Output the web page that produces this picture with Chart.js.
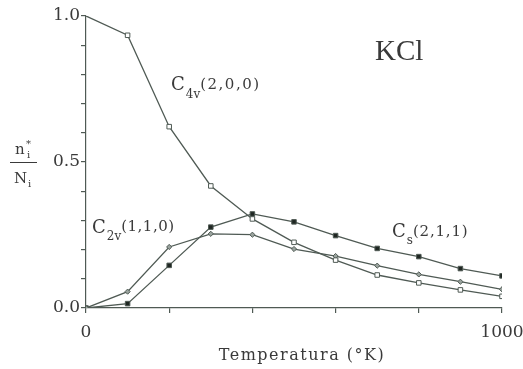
<!DOCTYPE html>
<html>
<head>
    <title>KCl</title>
    <script src="https://cdn.jsdelivr.net/npm/chart.js"></script>
    <style>
        body { margin: 0; background: #ffffff; }
        canvas { display: block; }
    </style>
</head>
<body>
    <canvas id="kclChart" width="523" height="369"></canvas>
    <script>
        // temperature (K) and n_i*/N_i
        var temps = [0, 100, 200, 300, 400, 500, 600, 700, 800, 900, 1000];
        var c4v = [1.0, 0.934, 0.621, 0.418, 0.305, 0.225, 0.164, 0.113, 0.086, 0.062, 0.040];
        var c2v = [0.0, 0.056, 0.209, 0.254, 0.251, 0.202, 0.178, 0.145, 0.115, 0.090, 0.064];
        var cs = [0.0, 0.015, 0.146, 0.277, 0.322, 0.295, 0.248, 0.204, 0.176, 0.135, 0.110];
        var xLabels = [0, 500, 1000];
        var yLabels = [0.0, 0.5, 1.0];

        var lineColor = '#4f5a54';
        var textColor = '#3a3a3a';
        var serif = '"DejaVu Serif", serif';

        function pairs(values) {
            return values.map(function (v, i) { return { x: temps[i], y: v }; });
        }

        // draws text pieces one after another (for sub/superscripts)
        function run(ctx, x, y, parts) {
            parts.forEach(function (p) {
                ctx.font = p.size + 'px ' + (p.family || serif);
                ctx.letterSpacing = (p.sp || 0) + 'px';
                ctx.fillText(p.t, x, y + (p.dy || 0));
                x += ctx.measureText(p.t).width;
            });
        }

        var labelsPlugin = {
            id: 'labels',
            afterDraw: function (chart) {
                var ctx = chart.ctx;
                ctx.save();
                ctx.fillStyle = textColor;
                ctx.textBaseline = 'alphabetic';
                ctx.textAlign = 'left';

                run(ctx, 375, 60, [{ t: 'KCl', size: 29, family: '"Liberation Serif", serif' }]);

                run(ctx, 171, 90, [{ t: 'C', size: 18, sp: 1 }, { t: '4v', size: 12, dy: 8 }, { t: '(2,0,0)', size: 15, sp: 1.5, dy: -1 }]);
                run(ctx, 92, 233, [{ t: 'C', size: 18, sp: 1 }, { t: '2v', size: 12, dy: 7 }, { t: '(1,1,0)', size: 15, sp: 0.5, dy: -2 }]);
                run(ctx, 392, 237, [{ t: 'C', size: 18, sp: 1 }, { t: 's', size: 12, dy: 7 }, { t: '(2,1,1)', size: 15, sp: 0.8, dy: -1 }]);

                // x axis title
                ctx.font = '16px ' + serif;
                ctx.letterSpacing = '1.5px';
                ctx.textAlign = 'center';
                ctx.fillText('Temperatura (\u00B0K)', 302, 360);

                // y axis title: n_i* / N_i
                ctx.textAlign = 'left';
                ctx.letterSpacing = '0px';
                ctx.font = '15px ' + serif;
                ctx.fillText('n', 15, 154);
                ctx.fillText('N', 14, 183);
                ctx.font = '10px ' + serif;
                ctx.fillText('i', 27, 158);
                ctx.fillText('*', 26, 147);
                ctx.fillText('i', 28, 187);
                ctx.strokeStyle = textColor;
                ctx.lineWidth = 1;
                ctx.beginPath();
                ctx.moveTo(10, 162.5);
                ctx.lineTo(37, 162.5);
                ctx.stroke();
                ctx.restore();
            }
        };

        function series(label, values, style, bg, radius) {
            return {
                label: label,
                data: pairs(values),
                borderColor: lineColor,
                borderWidth: 1.3,
                tension: 0,
                pointStyle: style,
                pointRadius: radius,
                pointBackgroundColor: bg,
                pointBorderColor: lineColor,
                pointBorderWidth: 1
            };
        }

        var ctx = document.getElementById('kclChart').getContext('2d');
        var chart = new Chart(ctx, {
            type: 'line',
            data: {
                datasets: [
                    series('C4v(2,0,0)', c4v, 'rect', '#ffffff', [0, 3.2, 3.2, 3.2, 3.2, 3.2, 3.2, 3.2, 3.2, 3.2, 3.2]),
                    series('C2v(1,1,0)', c2v, 'rectRot', '#9aa39e', 2.6),
                    series('Cs(2,1,1)', cs, 'rect', '#1f2622', 3.2)
                ]
            },
            options: {
                responsive: false,
                animation: false,
                layout: { padding: { top: 16, right: 21, left: 0, bottom: 0 } },
                plugins: {
                    legend: { display: false },
                    tooltip: { enabled: false }
                },
                scales: {
                    x: {
                        type: 'linear',
                        min: 0,
                        max: 1000,
                        afterFit: function (s) {
                            s.height = 61;
                            s.paddingLeft = 0;
                            s.paddingRight = 0;
                        },
                        border: { color: lineColor, width: 1.2 },
                        grid: { drawOnChartArea: false, tickLength: 5, color: lineColor, lineWidth: 1.2 },
                        ticks: {
                            stepSize: 100,
                            padding: 9,
                            color: textColor,
                            maxRotation: 0,
                            font: { family: serif, size: 17 },
                            callback: function (v) { return xLabels.indexOf(v) >= 0 ? String(v) : ''; }
                        }
                    },
                    y: {
                        min: 0,
                        max: 1,
                        afterFit: function (s) {
                            s.width = 86;
                            s.paddingTop = 0;
                            s.paddingBottom = 0;
                        },
                        border: { color: lineColor, width: 1.2 },
                        grid: { drawOnChartArea: false, tickLength: 5, color: lineColor, lineWidth: 1.2 },
                        ticks: {
                            stepSize: 0.1,
                            padding: 1,
                            color: textColor,
                            font: { family: serif, size: 17 },
                            callback: function (v) {
                                var hit = yLabels.some(function (l) { return Math.abs(l - v) < 1e-6; });
                                return hit ? v.toFixed(1) : '';
                            }
                        }
                    }
                }
            },
            plugins: [labelsPlugin]
        });
    </script>
</body>
</html>
